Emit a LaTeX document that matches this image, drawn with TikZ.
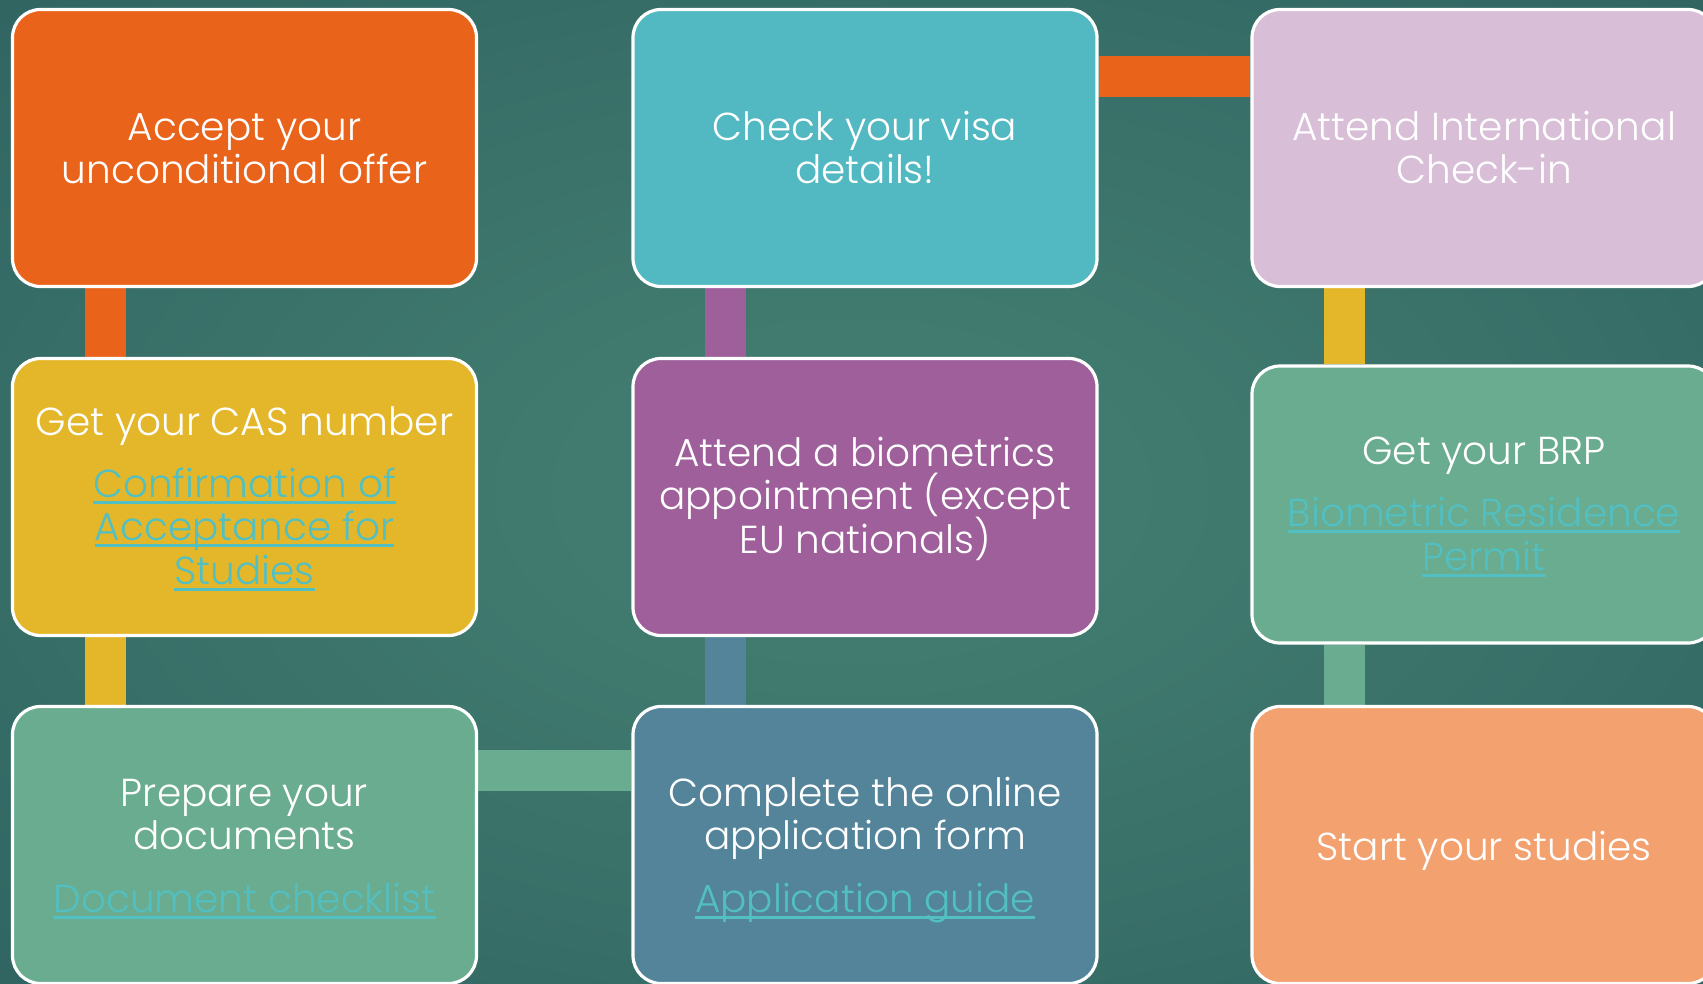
\documentclass[tikz,border=0pt]{standalone}
\usepackage{fontspec}
\setmainfont{Poppins}[UprightFont={* Light}]
\usetikzlibrary{backgrounds}
\pgfdeclarelayer{bg}
\pgfsetlayers{bg,background,main}
\definecolor{bgin}{HTML}{417B6F}
\definecolor{bgout}{HTML}{1E4C53}
\definecolor{orangeC}{HTML}{E9631A}
\definecolor{tealC}{HTML}{52B8C1}
\definecolor{lilacC}{HTML}{D8BED7}
\definecolor{yellowC}{HTML}{E4B72B}
\definecolor{purpleC}{HTML}{9E5F9A}
\definecolor{greenC}{HTML}{6AAC8F}
\definecolor{slateC}{HTML}{538499}
\definecolor{peachC}{HTML}{F3A16F}
\definecolor{linkC}{HTML}{52C0C2}
\pgfdeclareradialshading{bgshade}{\pgfpoint{0bp}{0bp}}{color(0bp)=(bgin); color(8bp)=(bgin); color(66bp)=(bgout); color(80bp)=(bgout)}
\begin{document}
\begin{tikzpicture}[x=1pt,y=-1pt,
  box/.style={draw=white, line width=3.2pt, rounded corners=28pt,
    minimum width=464pt, minimum height=277pt, inner sep=0pt},
  txt/.style={text=white, font=\fontsize{39}{42}\selectfont, inner sep=0pt, anchor=base},
  lnk/.style={text=linkC, font=\fontsize{39}{42}\selectfont, inner sep=0pt, anchor=base},
  uline/.style={draw=linkC, line width=2.5pt},
  tie/.style={line width=41pt}]
\begin{pgfonlayer}{bg}
\shade[shading=bgshade] (0,0) rectangle (1703,983);
\end{pgfonlayer}
\useasboundingbox (0,0) rectangle (1703,983);
\clip (0,0) rectangle (1703,983);

% boxes
\node[box, fill=orangeC] (accept) at (244.5,148) {};
\node[box, fill=yellowC] (cas) at (244.5,497) {};
\node[box, fill=greenC] (prepare) at (244.5,845) {};
\node[box, fill=slateC] (complete) at (865,845) {};
\node[box, fill=purpleC] (bio) at (865,497) {};
\node[box, fill=tealC] (check) at (865,148) {};
\node[box, fill=lilacC] (intl) at (1484,148) {};
\node[box, fill=greenC] (brp) at (1484,504.5) {};
\node[box, fill=peachC] (start) at (1484,845) {};

% ties
\begin{scope}[on background layer]
\draw[tie, draw=orangeC] ([xshift=95pt]accept.south west) -- ([xshift=95pt]cas.north west);
\draw[tie, draw=yellowC] ([xshift=95pt]cas.south west) -- ([xshift=95pt]prepare.north west);
\draw[tie, draw=greenC] ([yshift=-65.25pt]prepare.north east) -- ([yshift=-65.25pt]complete.north west);
\draw[tie, draw=slateC] ([xshift=94.5pt]complete.north west) -- ([xshift=94.5pt]bio.south west);
\draw[tie, draw=purpleC] ([xshift=94.5pt]bio.north west) -- ([xshift=94.5pt]check.south west);
\draw[tie, draw=orangeC] ([yshift=-68.75pt]check.north east) -- ([yshift=-68.75pt]intl.north west);
\draw[tie, draw=yellowC] ([xshift=94.25pt]intl.south west) -- ([xshift=94.25pt]brp.north west);
\draw[tie, draw=greenC] ([xshift=94.25pt]brp.south west) -- ([xshift=94.25pt]start.north west);
\end{scope}

% texts
\node[txt] (t1a) at (244.5,140) {Accept your};
\node[txt] (t1b) at (244.5,183) {unconditional offer};
\node[txt] (t6a) at (865,140) {Check your visa};
\node[txt] (t6b) at (865,183) {details!};
\node[txt] (t7a) at (1484,140) {Attend International};
\node[txt] (t7b) at (1484,183) {Check-in};
\node[txt] (t2a) at (244.5,435) {Get your CAS number};
\node[lnk] (l2a) at (244.5,497) {Confirmation of};
\node[lnk] (l2b) at (244.5,540) {Acceptance for};
\node[lnk] (l2c) at (244.5,584) {Studies};
\node[txt] (t5a) at (865,466) {Attend a biometrics};
\node[txt] (t5b) at (865,509) {appointment (except};
\node[txt] (t5c) at (865,553) {EU nationals)};
\node[txt] (t8a) at (1484,464) {Get your BRP};
\node[lnk] (l8a) at (1484,526) {Biometric Residence};
\node[lnk] (l8b) at (1484,570) {Permit};
\node[txt] (t3a) at (244.5,806) {Prepare your};
\node[txt] (t3b) at (244.5,849) {documents};
\node[lnk] (l3a) at (244.5,912) {Document checklist};
\node[txt] (t4a) at (865,806) {Complete the online};
\node[txt] (t4b) at (865,849) {application form};
\node[lnk] (l4a) at (865,912) {Application guide};
\node[txt] (t9a) at (1484,860) {Start your studies};

\foreach \n in {l2a,l2b,l2c,l8a,l8b,l3a,l4a}
  \draw[uline] ([yshift=-5.5pt]\n.base west) -- ([yshift=-5.5pt]\n.base east);
\end{tikzpicture}
\end{document}
